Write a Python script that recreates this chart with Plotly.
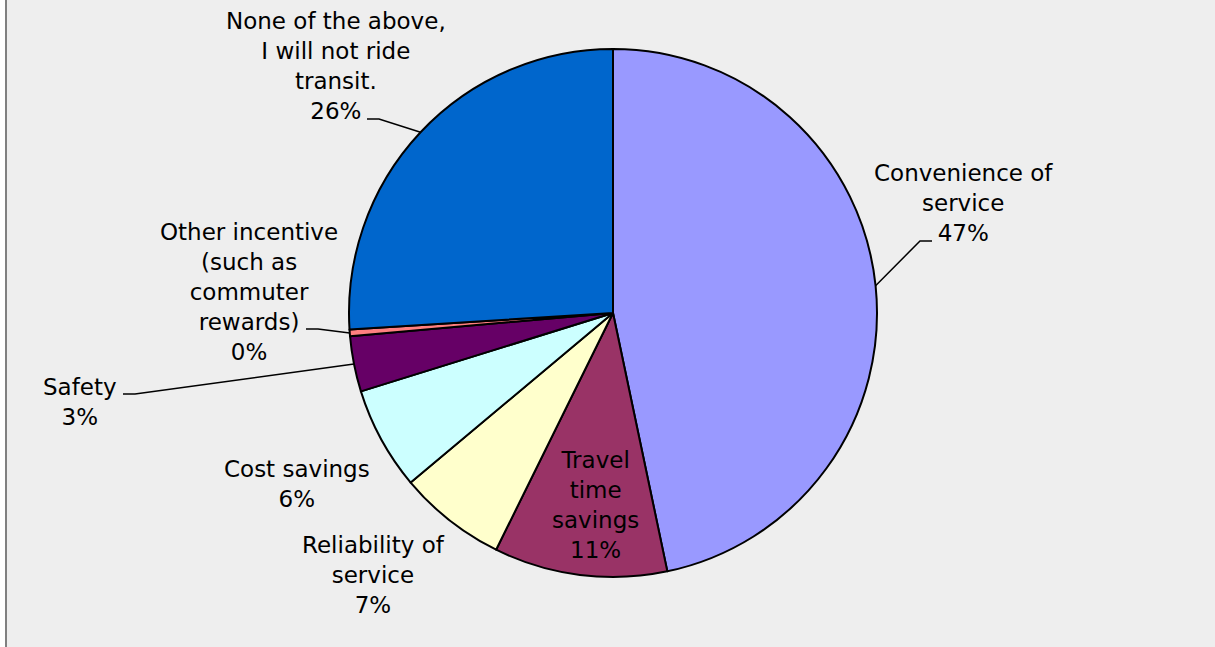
import math
import plotly.graph_objects as go

# ---- data ----
categories = [
    "Convenience of<br>service",
    "Travel<br>time<br>savings",
    "Reliability of<br>service",
    "Cost savings",
    "Safety",
    "Other incentive<br>(such as<br>commuter<br>rewards)",
    "None of the above,<br>I will not ride<br>transit.",
]
values = [46.7, 10.6, 6.6, 6.3, 3.4, 0.4, 26.0]
colors = ["#9999FF", "#993366", "#FFFFCC", "#CCFFFF", "#660066", "#FF8080", "#0066CC"]

# ---- layout constants (pixels) ----
W, H = 1215, 647
CX, CY, R = 613, 313, 264
FONT = "DejaVu Sans"
FS = 23

# label centre positions (pixels) and leader-line elbow (None = no leader)
label_pos = [
    (963, 203, (932, 241)),
    (595, 505, None),
    (374, 574.5, None),
    (297, 483.5, None),
    (80, 401.5, (123, 394)),
    (249, 292, (306, 329)),
    (336, 66, (367, 119)),
]
elbow_len = 12


def px(x):
    return x / W


def py(y):
    return 1 - y / H


fig = go.Figure()
fig.add_trace(go.Pie(
    labels=[c.replace("<br>", " ") for c in categories],
    values=values,
    sort=False,
    direction="clockwise",
    rotation=0,
    marker=dict(colors=colors, line=dict(color="black", width=2)),
    textinfo="none",
    hoverinfo="skip",
    showlegend=False,
    domain=dict(x=[px(CX - R), px(CX + R)], y=[py(CY + R), py(CY - R)]),
))

total = sum(values)
annotations = []
shapes = []
cum = 0.0
for cat, v, (lx, ly, elbow) in zip(categories, values, label_pos):
    mid = (cum + v / 2) / total * 2 * math.pi
    cum += v
    pct = round(v / total * 100)
    annotations.append(dict(
        x=px(lx), y=py(ly), xref="paper", yref="paper",
        text=f"{cat}<br>{pct}%", showarrow=False,
        xanchor="center", yanchor="middle", align="center",
        font=dict(family=FONT, size=FS, color="black"),
    ))
    if elbow is not None:
        ex, ey = elbow
        sx = CX + R * math.sin(mid)
        sy = CY - R * math.cos(mid)
        if sx > ex:
            path = f"M {px(ex)},{py(ey)} L {px(ex + elbow_len)},{py(ey)} L {px(sx)},{py(sy)}"
        else:
            path = f"M {px(ex)},{py(ey)} L {px(ex - elbow_len)},{py(ey)} L {px(sx)},{py(sy)}"
        shapes.append(dict(type="path", xref="paper", yref="paper", path=path,
                           line=dict(color="black", width=1.5)))

# left frame edge
shapes.append(dict(type="rect", xref="paper", yref="paper", x0=0, x1=px(5), y0=0, y1=1,
                   fillcolor="white", line=dict(width=0), layer="below"))
shapes.append(dict(type="line", xref="paper", yref="paper", x0=px(6), x1=px(6), y0=0, y1=1,
                   line=dict(color="#808080", width=2)))

fig.update_layout(
    width=W, height=H,
    margin=dict(l=0, r=0, t=0, b=0),
    paper_bgcolor="#EEEEEE",
    plot_bgcolor="#EEEEEE",
    annotations=annotations,
    shapes=shapes,
    font=dict(family=FONT, size=FS, color="black"),
)

fig.write_html(
    "out.html",
    config={"displayModeBar": False},
    post_script="document.body.style.margin='0';document.body.style.overflow='hidden';",
)
